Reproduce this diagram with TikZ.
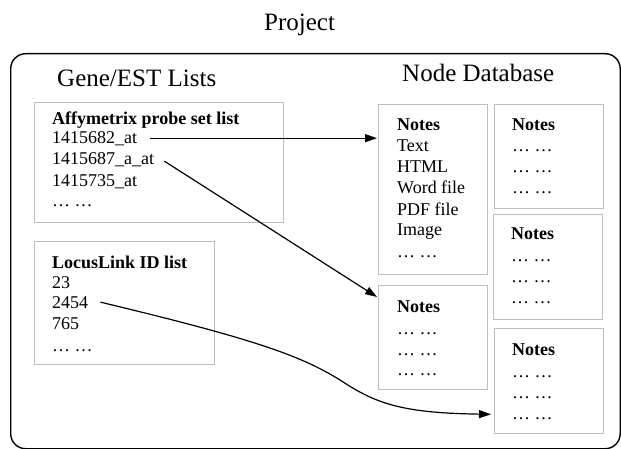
\documentclass[tikz,border=0pt]{standalone}
\usepackage{fontspec}
\setmainfont{Liberation Serif}
\usetikzlibrary{arrows.meta}
\definecolor{boxgray}{RGB}{190,190,190}
\tikzset{
  outerbox/.style={draw=black, line width=1.4pt, rounded corners=15pt, anchor=north west, inner sep=0pt},
  gbox/.style={draw=boxgray, line width=1.3pt, anchor=north west, inner sep=0pt},
  txt/.style={anchor=base west, inner sep=0pt, font=\fontsize{18}{21}\selectfont},
  head/.style={txt, font=\fontsize{18}{21}\selectfont\bfseries},
  ttl/.style={anchor=base west, inner sep=0pt, font=\fontsize{25}{30}\selectfont},
  arr/.style={-{Triangle[length=12pt,width=8pt]}, line width=1.2pt}
}
\begin{document}
\begin{tikzpicture}[x=1pt,y=-1pt]
\useasboundingbox (0,0) rectangle (621,449);
% outer project frame
\node[outerbox, minimum width=609.5pt, minimum height=395pt] (proj) at (10,53) {};
\node[ttl] (tproj) at (264,31) {Project};
\node[ttl] (tgene) at (57,87) {Gene/EST Lists};
\node[ttl] (tnode) at (402,82) {Node Database};
% list boxes
\node[gbox, minimum width=249pt, minimum height=120pt] (affy) at (34,102) {};
\node[gbox, minimum width=180pt, minimum height=123pt] (locus) at (34,241) {};
% note boxes
\node[gbox, minimum width=109pt, minimum height=170pt] (nA) at (378,104) {};
\node[gbox, minimum width=109pt, minimum height=104pt] (nB) at (494,104) {};
\node[gbox, minimum width=109pt, minimum height=105pt] (nC) at (493,214) {};
\node[gbox, minimum width=109pt, minimum height=104pt] (nD) at (378,285) {};
\node[gbox, minimum width=109pt, minimum height=105pt] (nE) at (494,328) {};
% Affymetrix text
\node[head] (affyh) at (52,125) {Affymetrix probe set list};
\node[txt] (a1) at (52,144) {1415682\_at};
\node[txt] (a2) at (52,165) {1415687\_a\_at};
\node[txt] (a3) at (52,187) {1415735\_at};
\node[txt] (a4) at (52,207) {… …};
% LocusLink text
\node[head] (loch) at (52,268) {LocusLink ID list};
\node[txt] (l1) at (52,288) {23};
\node[txt] (l2) at (52,308) {2454};
\node[txt] (l3) at (52,329) {765};
\node[txt] (l4) at (52,351) {… …};
% Notes A
\node[head] (Ah) at (397,131) {Notes};
\node[txt] (A1) at (397,152) {Text};
\node[txt] (A2) at (397,173) {HTML};
\node[txt] (A3) at (397,194) {Word file};
\node[txt] (A4) at (397,215) {PDF file};
\node[txt] (A5) at (397,236) {Image};
\node[txt] (A6) at (397,257) {… …};
% Notes B
\node[head] (Bh) at (512,131) {Notes};
\node[txt] (B1) at (512,152) {… …};
\node[txt] (B2) at (512,173) {… …};
\node[txt] (B3) at (512,194) {… …};
% Notes C
\node[head] (Ch) at (511,240) {Notes};
\node[txt] (C1) at (511,261) {… …};
\node[txt] (C2) at (511,282) {… …};
\node[txt] (C3) at (511,303) {… …};
% Notes D
\node[head] (Dh) at (397,312) {Notes};
\node[txt] (D1) at (397,334) {… …};
\node[txt] (D2) at (397,355) {… …};
\node[txt] (D3) at (397,375) {… …};
% Notes E
\node[head] (Eh) at (512,355) {Notes};
\node[txt] (E1) at (512,377) {… …};
\node[txt] (E2) at (512,398) {… …};
\node[txt] (E3) at (512,419) {… …};
% connectors
\coordinate (s1) at ([xshift=13pt,yshift=1pt]a1.east);
\draw[arr] (s1) -- ([xshift=-1pt]nA.west |- s1);
\draw[arr] ([xshift=10pt,yshift=-1pt]a2.east) -- ([xshift=-1pt,yshift=-12pt]nD.north west);
\coordinate (s3) at ([xshift=12pt]l2.east);
\coordinate (e3) at ([xshift=-3pt,yshift=20pt]nE.south west);
\draw[line width=1.2pt] (s3) .. controls (250,338) and (300,355) .. (340,380);
\draw[arr] (340,380) .. controls (375,403) and (400,413) .. (e3);
\end{tikzpicture}
\end{document}
